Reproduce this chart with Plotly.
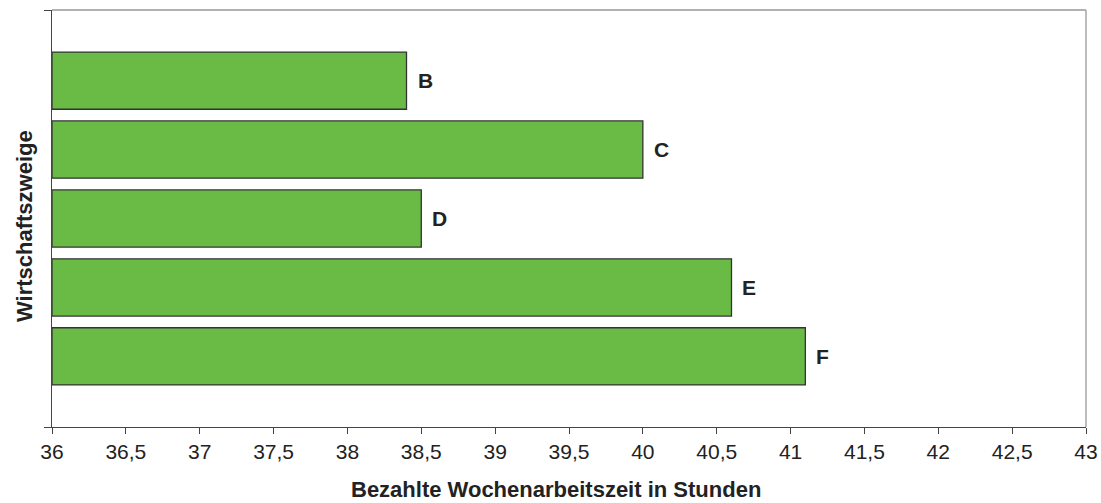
import plotly.graph_objects as go

categories = ["B", "C", "D", "E", "F"]
values = [38.4, 40.0, 38.5, 40.6, 41.1]
positions = [0, 1, 2, 3, 4]
x_start = 36
x_title = "Bezahlte Wochenarbeitszeit in Stunden"
y_title = "Wirtschaftszweige"

fig = go.Figure()
fig.add_trace(go.Bar(
    x=[v - x_start for v in values], y=positions, orientation="h", base=x_start,
    width=0.83,
    marker=dict(color="#6abb46", line=dict(color="#333333", width=1.3)),
    hoverinfo="skip",
))

for cat, v, p in zip(categories, values, positions):
    fig.add_annotation(x=v, y=p, text="<b>%s</b>" % cat, showarrow=False,
                       xanchor="left", xshift=9, yshift=0,
                       font=dict(size=21, color="#222222"))

# axis titles
fig.add_annotation(xref="paper", yref="paper", x=0.4874, y=0, yshift=-62,
                   xanchor="center", yanchor="middle", showarrow=False,
                   text="<b>%s</b>" % x_title, font=dict(size=22, color="#222222"))
fig.add_annotation(xref="paper", yref="paper", x=0, xshift=-28, y=0.482,
                   xanchor="center", yanchor="middle", showarrow=False, textangle=-90,
                   text="<b>%s</b>" % y_title, font=dict(size=22, color="#222222"))

fig.update_layout(
    width=1101, height=503,
    margin=dict(l=52, r=15, t=10, b=76, autoexpand=False),
    plot_bgcolor="white", paper_bgcolor="white",
    separators=",.",
    font=dict(family="Liberation Sans, Arial, sans-serif", color="#222222"),
    showlegend=False,
    xaxis=dict(range=[36, 43], dtick=0.5, tick0=36, showgrid=False, zeroline=False,
               showline=True, linecolor="#444444", linewidth=1.3, automargin=False,
               ticks="outside", ticklen=6, tickcolor="#444444", tickwidth=1,
               tickfont=dict(size=21, color="#222222")),
    yaxis=dict(range=[5.025, -1.025], showgrid=False, zeroline=False,
               showline=True, linecolor="#444444", linewidth=1.3, automargin=False,
               tickvals=[-1.025, 5.025], ticktext=["", ""],
               ticks="outside", ticklen=7, tickcolor="#444444"),
)
fig.add_shape(type="line", xref="paper", yref="paper", x0=0, x1=1, y0=1, y1=1,
              line=dict(color="#999999", width=1.3))
fig.add_shape(type="line", xref="paper", yref="paper", x0=1, x1=1, y0=0, y1=1,
              line=dict(color="#999999", width=1.3))

fig.write_html("out.html", config={"displayModeBar": False},
               post_script="document.body.style.margin='0';document.body.style.overflow='hidden';")
